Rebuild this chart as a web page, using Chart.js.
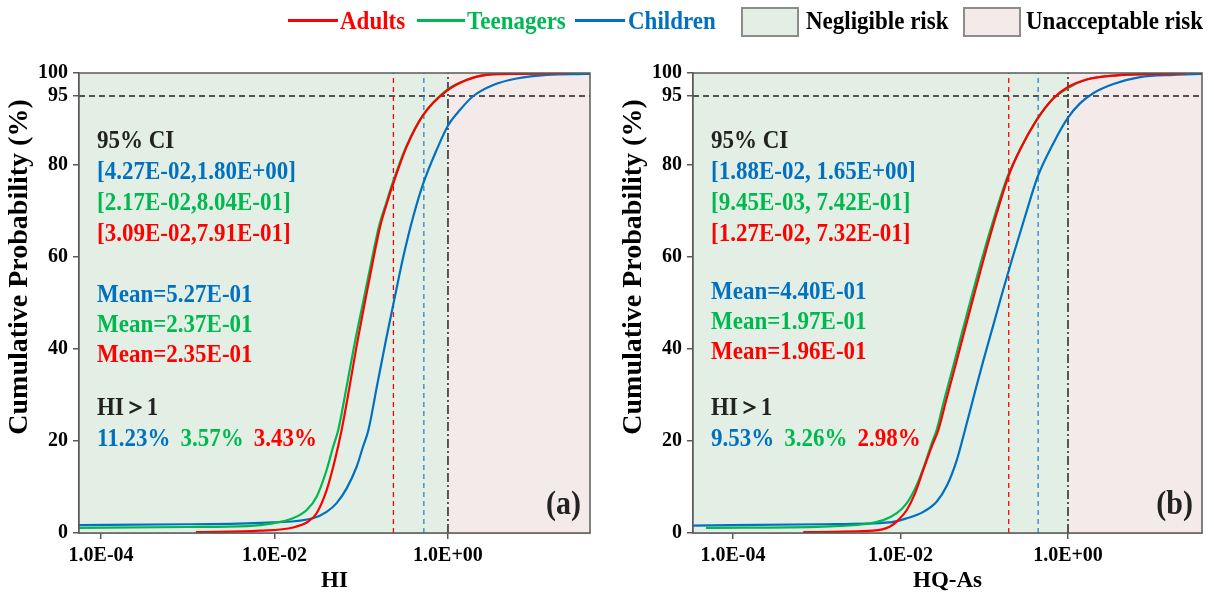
<!DOCTYPE html>
<html>
<head>
<meta charset="utf-8">
<script src="https://cdn.jsdelivr.net/npm/chart.js@4.4.0/dist/chart.umd.min.js"></script>
<style>
  body { margin: 0; background: #fff; width: 1214px; height: 595px; overflow: hidden; position: relative; }
  .pane { position: absolute; top: 0; }
  #legend { position: absolute; left: 0; top: 0; width: 1214px; height: 44px; z-index: 2;
    font-family: "Liberation Serif", "Times New Roman", serif; font-weight: bold; font-size: 23px; }
  #legend .txt { position: absolute; top: 8px; line-height: 26px; white-space: nowrap;
    transform: scaleY(1.12); transform-origin: left center; }
  #legend .ln { position: absolute; top: 19px; height: 3px; }
  #legend .bx { position: absolute; top: 7px; width: 54px; height: 26px; border: 2px solid #8c8c8c; }
</style>
</head>
<body>

<div id="legend">
  <div class="ln" style="left:288px;width:50px;background:#ff0000"></div>
  <div class="txt" style="left:340px;color:#ff0000">Adults</div>
  <div class="ln" style="left:417px;width:48px;background:#00b850"></div>
  <div class="txt" style="left:467px;color:#00b850">Teenagers</div>
  <div class="ln" style="left:575px;width:50px;background:#0070c0"></div>
  <div class="txt" style="left:628px;color:#0070c0">Children</div>
  <div class="bx" style="left:741px;background:#e3efe4"></div>
  <div class="txt" style="left:806px;color:#000">Negligible risk</div>
  <div class="bx" style="left:963px;background:#f5eaea"></div>
  <div class="txt" style="left:1026px;color:#000">Unacceptable risk</div>
</div>

<canvas id="chartA" class="pane" style="left:0" width="607" height="595"></canvas>
<canvas id="chartB" class="pane" style="left:607px" width="607" height="595"></canvas>

<script>
// ================= DATA =================
// [x, cumulative %]
const hiAdults = [
  [1.24e-3, 0.2], [6.79e-3, 0.5], [1.64e-2, 1.2], [2.45e-2, 2.5], [3.06e-2, 4.3],
  [3.99e-2, 9.3], [4.98e-2, 15.9], [5.94e-2, 22.4], [7.21e-2, 31], [8.91e-2, 41],
  [0.111, 50.5], [0.137, 59.3], [0.165, 66.6], [0.200, 72], [0.234, 76], [0.334, 84],
  [0.519, 90.9], [0.966, 96.1], [1.64, 98.5], [2.79, 99.6], [6.20, 99.8], [25.5, 100]
];
const hiTeens = [
  [4.0e-5, 1.1], [1.0e-3, 1.3], [4.81e-3, 1.5], [9.59e-3, 2.1], [1.63e-2, 3.2],
  [2.35e-2, 5.0], [3.06e-2, 7.9], [3.99e-2, 13.7], [4.75e-2, 18.8], [5.43e-2, 22.4],
  [6.66e-2, 31], [8.35e-2, 41], [0.106, 50.5], [0.132, 59.3], [0.160, 66.6],
  [0.196, 72], [0.229, 76], [0.330, 84], [0.519, 90.9], [0.966, 96.3], [1.64, 98.5],
  [2.79, 99.6], [6.20, 99.8], [25.5, 100]
];
const hiChildren = [
  [4.0e-5, 1.7], [1.0e-3, 1.9], [9.59e-3, 2.3], [2.77e-2, 3.2], [3.99e-2, 4.6],
  [5.20e-2, 6.5], [6.79e-2, 9.7], [8.85e-2, 14.4], [0.105, 18.8], [0.121, 22.4],
  [0.152, 32], [0.193, 42], [0.245, 51.5], [0.305, 60], [0.398, 68.8],
  [0.519, 76], [0.741, 83.3], [1.01, 88.7], [1.38, 92], [1.96, 95],
  [3.33, 97.4], [6.20, 98.8], [13.8, 99.6], [39.8, 99.8], [60, 99.9]
];

const hqAdults = [
  [6.90e-4, 0.2], [4.73e-3, 0.5], [7.50e-3, 1.4], [9.42e-3, 2.8], [1.19e-2, 5.0],
  [1.49e-2, 8.6], [1.87e-2, 13.7], [2.36e-2, 18.8], [2.83e-2, 22.4], [3.49e-2, 28.7],
  [4.48e-2, 36.1], [5.73e-2, 43.5], [7.34e-2, 50.9], [9.75e-2, 59.3], [0.141, 69.5],
  [0.194, 77.5], [0.267, 83.3], [0.423, 89.8], [0.667, 94.5], [1.01, 97.0],
  [1.67, 98.6], [3.81, 99.5], [10.4, 99.8], [26.1, 99.9]
];
const hqTeens = [
  [4.76e-5, 1.1], [1.20e-3, 1.4], [3.60e-3, 1.9], [6.24e-3, 2.8], [9.02e-3, 4.3],
  [1.19e-2, 6.5], [1.56e-2, 10.4], [1.96e-2, 15.1], [2.36e-2, 19.5], [2.70e-2, 22.4],
  [3.30e-2, 28.7], [4.24e-2, 36.1], [5.42e-2, 43.5], [6.95e-2, 50.9], [9.27e-2, 59.3],
  [0.136, 69.5], [0.190, 77.5], [0.267, 83.3], [0.423, 89.8], [0.667, 94.4],
  [1.01, 96.8], [1.67, 98.6], [3.81, 99.5], [10.4, 99.8], [26.1, 99.9]
];
const hqChildren = [
  [2.5e-5, 1.6], [1.20e-3, 1.9], [7.50e-3, 2.3], [1.19e-2, 3.2], [1.87e-2, 4.6],
  [2.70e-2, 6.8], [3.56e-2, 10.2], [4.69e-2, 15.8], [5.89e-2, 22.4], [7.55e-2, 29.9],
  [9.66e-2, 37.2], [0.126, 44.7], [0.163, 52], [0.213, 59.3], [0.307, 68.8],
  [0.435, 77.5], [0.667, 84.7], [0.991, 90.2], [1.39, 93.4], [2.00, 95.6],
  [3.48, 97.6], [7.24, 99.1], [18.1, 99.6], [39.5, 99.8], [60, 99.9]
];

// means: adults, teenagers, children
const hiMeans = [0.235, 0.237, 0.527];
const hqMeans = [0.196, 0.197, 0.440];

// text blocks: children, teenagers, adults
const hiCI = ["[4.27E-02,1.80E+00]", "[2.17E-02,8.04E-01]", "[3.09E-02,7.91E-01]"];
const hqCI = ["[1.88E-02, 1.65E+00]", "[9.45E-03, 7.42E-01]", "[1.27E-02, 7.32E-01]"];
const hiMeanText = ["Mean=5.27E-01", "Mean=2.37E-01", "Mean=2.35E-01"];
const hqMeanText = ["Mean=4.40E-01", "Mean=1.97E-01", "Mean=1.96E-01"];
const hiExceed = ["11.23%", "3.57%", "3.43%"];
const hqExceed = ["9.53%", "3.26%", "2.98%"];

const xTickValues = [1e-4, 1e-2, 1];
const xTickLabels = ["1.0E-04", "1.0E-02", "1.0E+00"];
const yTickValues = [0, 20, 40, 60, 80, 95, 100];

const RED = "#ff0000", GREEN = "#00b850", BLUE = "#0070c0";
const TEXT_COLORS = [BLUE, GREEN, RED];
const SERIF = '"Liberation Serif", "Times New Roman", serif';
const STRETCH = 1.12;

// ================= PLUGINS =================
const riskZones = {
  id: "riskZones",
  beforeDatasetsDraw(chart) {
    const { ctx, chartArea: a, scales: { x } } = chart;
    const x1 = x.getPixelForValue(1);
    ctx.save();
    ctx.fillStyle = "#e3efe4";
    ctx.fillRect(a.left, a.top, x1 - a.left, a.bottom - a.top);
    ctx.fillStyle = "#f5eaea";
    ctx.fillRect(x1, a.top, a.right - x1, a.bottom - a.top);
    ctx.restore();
  },
  afterDraw(chart) {
    const { ctx, chartArea: a } = chart;
    ctx.save();
    ctx.strokeStyle = "#5a5a5a";
    ctx.lineWidth = 1.5;
    ctx.strokeRect(a.left, a.top, a.right - a.left, a.bottom - a.top);
    ctx.restore();
  }
};

function tallText(ctx, t, x, y) {
  ctx.save();
  ctx.translate(x, y);
  ctx.scale(1, STRETCH);
  ctx.fillText(t, 0, 0);
  ctx.restore();
}

const notes = {
  id: "notes",
  afterDraw(chart, args, o) {
    const { ctx, chartArea: a } = chart;
    const L = a.left + 18;
    ctx.save();
    ctx.font = "bold 23px " + SERIF;
    ctx.textBaseline = "middle";
    ctx.textAlign = "left";
    ctx.fillStyle = "#222";
    tallText(ctx, "95% CI", L, a.top + 68);
    o.ci.forEach((t, i) => { ctx.fillStyle = TEXT_COLORS[i]; tallText(ctx, t, L, a.top + 99 + i * 31); });
    o.means.forEach((t, i) => { ctx.fillStyle = TEXT_COLORS[i]; tallText(ctx, t, L, a.top + o.meanTop + i * 30); });
    ctx.fillStyle = "#222";
    tallText(ctx, "HI\uFF1E1", L, a.top + 335);
    let px = L;
    o.exceed.forEach((t, i) => {
      ctx.fillStyle = TEXT_COLORS[i];
      tallText(ctx, t, px, a.top + 366);
      px += ctx.measureText(t).width + 10;
    });
    ctx.fillStyle = "#222";
    ctx.textAlign = "right";
    ctx.font = "bold 30px " + SERIF;
    tallText(ctx, o.tag, a.right - 9, a.bottom - 28);

    // y axis title, sits a little above the plot centre
    ctx.font = "bold 28px " + SERIF;
    ctx.textAlign = "center";
    ctx.fillStyle = "#000";
    ctx.translate(o.yTitleX, 267);
    ctx.rotate(-Math.PI / 2);
    ctx.fillText("Cumulative Probability (%)", 0, 0);
    ctx.restore();
  }
};

// ================= CHART BUILDER =================
function curve(data, color) {
  return {
    data: data.map(p => ({ x: p[0], y: p[1] })),
    borderColor: color, borderWidth: 2.2, pointRadius: 0,
    cubicInterpolationMode: "monotone", fill: false
  };
}

function refLine(points, color, dash, width) {
  return {
    data: points, borderColor: color, borderWidth: width || 1.3,
    borderDash: dash, pointRadius: 0, fill: false, tension: 0
  };
}

function makeChart(id, cfg) {
  const ctx = document.getElementById(id).getContext("2d");
  return new Chart(ctx, {
    type: "line",
    data: {
      datasets: [
        curve(cfg.adults, RED),
        curve(cfg.teens, GREEN),
        curve(cfg.children, BLUE),
        refLine([{ x: cfg.means[0], y: 0 }, { x: cfg.means[0], y: 100 }], RED, [5, 4]),
        refLine([{ x: cfg.means[2], y: 0 }, { x: cfg.means[2], y: 100 }], "#2f83c9", [5, 4]),
        refLine([{ x: 1, y: 0 }, { x: 1, y: 100 }], "#333", [9, 3, 2, 3], 1.6),
        refLine([{ x: cfg.xMin, y: 95 }, { x: cfg.xMax, y: 95 }], "#222", [6, 4])
      ]
    },
    options: {
      responsive: false,
      animation: false,
      devicePixelRatio: 1,
      layout: { padding: { top: 73, right: cfg.padRight, bottom: 0, left: 0 } },
      plugins: {
        legend: { display: false },
        tooltip: { enabled: false },
        notes: {
          ci: cfg.ci, means: cfg.meanText, meanTop: cfg.meanTop, exceed: cfg.exceed,
          tag: cfg.tag, yTitleX: cfg.yTitleX
        }
      },
      scales: {
        x: {
          type: "logarithmic",
          min: cfg.xMin, max: cfg.xMax,
          afterBuildTicks: s => { s.ticks = xTickValues.map(v => ({ value: v })); },
          afterFit: s => { s.height = 62; },
          ticks: {
            autoSkip: false, maxRotation: 0, padding: 5, color: "#000",
            font: { family: SERIF, weight: "bold", size: 20 },
            callback: (v, i) => xTickLabels[i]
          },
          grid: { drawOnChartArea: false, tickLength: 6, color: "#5a5a5a", lineWidth: 1.5 },
          border: { color: "#5a5a5a", width: 1.5 },
          title: {
            display: true, text: cfg.xTitle, color: "#000", padding: { top: 0, bottom: 0 },
            font: { family: SERIF, weight: "bold", size: 23 }
          }
        },
        y: {
          min: 0, max: 100,
          afterBuildTicks: s => { s.ticks = yTickValues.map(v => ({ value: v })); },
          afterFit: s => { s.width = cfg.yWidth; },
          ticks: {
            autoSkip: false, padding: 5, color: "#000",
            font: { family: SERIF, weight: "bold", size: 20 }
          },
          grid: { drawOnChartArea: false, tickLength: 6, color: "#5a5a5a", lineWidth: 1.5 },
          border: { color: "#5a5a5a", width: 1.5 }
        }
      }
    },
    plugins: [riskZones, notes]
  });
}

makeChart("chartA", {
  adults: hiAdults, teens: hiTeens, children: hiChildren, means: hiMeans,
  ci: hiCI, meanText: hiMeanText, exceed: hiExceed, meanTop: 222, tag: "(a)",
  xTitle: "HI", xMin: 5.57e-5, xMax: 43.4, yWidth: 79, padRight: 17, yTitleX: 20
});

makeChart("chartB", {
  adults: hqAdults, teens: hqTeens, children: hqChildren, means: hqMeans,
  ci: hqCI, meanText: hqMeanText, exceed: hqExceed, meanTop: 219, tag: "(b)",
  xTitle: "HQ-As", xMin: 3.33e-5, xMax: 39.8, yWidth: 86, padRight: 12, yTitleX: 27
});
</script>
</body>
</html>
